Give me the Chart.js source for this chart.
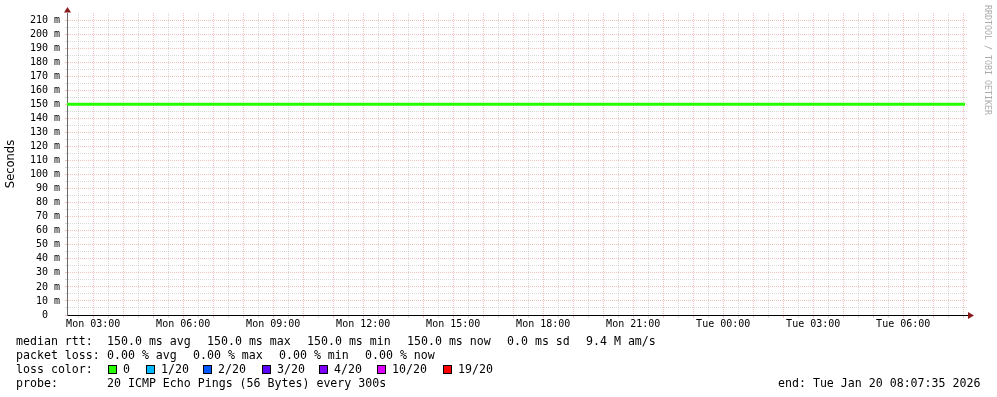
<!DOCTYPE html>
<html>
<head>
<meta charset="utf-8">
<script src="https://cdn.jsdelivr.net/npm/chart.js@4.4.1/dist/chart.umd.min.js"></script>
<style>
  html, body { margin: 0; padding: 0; background: #fff; }
  #wrap { position: relative; width: 997px; height: 397px; overflow: hidden; }
  #c { position: absolute; left: 0; top: 0; }
  .lg { position: absolute; font: 11.6px "DejaVu Sans Mono", monospace; color: #000; white-space: pre; line-height: 14px; }
  .box { position: absolute; width: 7px; height: 7px; border: 1px solid #000; }
</style>
</head>
<body>
<div id="wrap"><canvas id="c" width="997" height="397"></canvas></div>
<script>
// time axis in hours since Mon 00:00 (graph spans Mon 02:07:35 .. Tue 08:07:35)
const xStartHour = 2 + 7 / 60 + 35 / 3600;
const xEndHour = 32 + 7 / 60 + 35 / 3600;

// median rtt samples (ms) — flat at 150.0 the whole range
const sampleHours = [2.13, 6, 10, 14, 18, 22, 26, 30, 32.06];
const medianRttMs = [150, 150, 150, 150, 150, 150, 150, 150, 150];

const xLabelHours = [3, 6, 9, 12, 15, 18, 21, 24, 27, 30];
const xLabels = ['Mon 03:00', 'Mon 06:00', 'Mon 09:00', 'Mon 12:00', 'Mon 15:00',
  'Mon 18:00', 'Mon 21:00', 'Tue 00:00', 'Tue 03:00', 'Tue 06:00'];

const yLabelValues = [0, 10, 20, 30, 40, 50, 60, 70, 80, 90, 100, 110, 120, 130, 140, 150,
  160, 170, 180, 190, 200, 210];
const yLabels = ['0  ', '10 m', '20 m', '30 m', '40 m', '50 m', '60 m', '70 m', '80 m', '90 m',
  '100 m', '110 m', '120 m', '130 m', '140 m', '150 m', '160 m', '170 m', '180 m', '190 m',
  '200 m', '210 m'];

const rttTitle = 'median rtt:';
const rttStats = ['150.0 ms avg', '150.0 ms max', '150.0 ms min', '150.0 ms now', '0.0 ms sd', '9.4 M am/s'];
const lossTitle = 'packet loss:';
const lossStats = ['0.00 % avg', '0.00 % max', '0.00 % min', '0.00 % now'];
const lossColorTitle = 'loss color:';
const lossNames = ['0', '1/20', '2/20', '3/20', '4/20', '10/20', '19/20'];
const lossColors = ['#26ff00', '#00b8ff', '#0059ff', '#5e00ff', '#7e00ff', '#dd00ff', '#ff0000'];
const probeTitle = 'probe:';
const probeText = '20 ICMP Echo Pings (56 Bytes) every 300s';
const endText = 'end: Tue Jan 20 08:07:35 2026';

const MGRID = 'rgba(222,80,80,0.36)';
const GRID = 'rgba(143,143,143,0.34)';
const ARROW = '#8a1c1c';
const MONO = '"DejaVu Sans Mono", monospace';

// grid positions: every half hour / every 5 m
const gridHours = [];
for (let h = Math.ceil(xStartHour * 2) / 2; h <= xEndHour; h += 0.5) gridHours.push(h);
const gridMs = [];
for (let v = 0; v <= 210; v += 5) gridMs.push(v);

const decorPlugin = {
  id: 'rrd-decor',
  afterDraw(chart) {
    const ctx = chart.ctx;
    const { left, right, top, bottom } = chart.chartArea;
    ctx.save();
    // axis extensions + arrows
    ctx.strokeStyle = '#000';
    ctx.lineWidth = 1;
    ctx.beginPath();
    ctx.moveTo(right, bottom + 0.5);
    ctx.lineTo(right + 2, bottom + 0.5);
    ctx.stroke();
    ctx.fillStyle = ARROW;
    ctx.beginPath();
    ctx.moveTo(right + 1, bottom - 3);
    ctx.lineTo(right + 7, bottom + 0.5);
    ctx.lineTo(right + 1, bottom + 4);
    ctx.closePath();
    ctx.fill();
    ctx.beginPath();
    ctx.moveTo(left - 3, top - 0.5);
    ctx.lineTo(left + 0.5, top - 6);
    ctx.lineTo(left + 4, top - 0.5);
    ctx.closePath();
    ctx.fill();

    // y title
    ctx.fillStyle = '#000';
    ctx.font = '11.5px "DejaVu Sans", sans-serif';
    ctx.textAlign = 'center';
    ctx.textBaseline = 'middle';
    ctx.translate(11, (top + bottom) / 2);
    ctx.rotate(-Math.PI / 2);
    ctx.fillText('Seconds', 0, 0);
    ctx.restore();

    // watermark
    ctx.save();
    ctx.fillStyle = '#ababab';
    ctx.font = '8.3px ' + MONO;
    ctx.textAlign = 'left';
    ctx.textBaseline = 'middle';
    ctx.translate(987, 5);
    ctx.rotate(Math.PI / 2);
    ctx.fillText('RRDTOOL / TOBI OETIKER', 0, 0);
    ctx.restore();
  },
};

new Chart(document.getElementById('c'), {
  type: 'line',
  data: {
    datasets: [{
      label: 'median rtt',
      data: sampleHours.map((h, i) => ({ x: h, y: medianRttMs[i] })),
      parsing: false,
      borderColor: lossColors[0],
      borderWidth: 3,
      pointRadius: 0,
      tension: 0,
      fill: false,
    }],
  },
  options: {
    responsive: false,
    animation: false,
    devicePixelRatio: 1,
    layout: { padding: { left: 0, right: 30, top: 13, bottom: 0 } },
    scales: {
      x: {
        type: 'linear',
        min: xStartHour,
        max: xEndHour,
        afterBuildTicks: s => { s.ticks = gridHours.map(v => ({ value: v })); },
        afterFit: s => { s.height = 82; },
        grid: {
          color: c => Number.isInteger(c.tick.value) ? MGRID : GRID,
          tickLength: 3,
        },
        border: { color: '#000', width: 1, dash: [1, 1] },
        ticks: {
          autoSkip: false,
          maxRotation: 0,
          padding: 0,
          color: '#000',
          font: { family: MONO, size: 10 },
          callback: v => {
            const i = xLabelHours.indexOf(v);
            return i >= 0 ? xLabels[i] : '';
          },
        },
      },
      y: {
        min: 0,
        max: 215,
        afterBuildTicks: s => { s.ticks = gridMs.map(v => ({ value: v })); },
        afterFit: s => { s.width = 67; },
        grid: {
          color: c => c.tick.value % 10 === 0 ? MGRID : GRID,
          tickLength: 2,
        },
        border: { color: '#6a6a6a', width: 1, dash: [1, 1] },
        ticks: {
          autoSkip: false,
          padding: 5,
          color: '#000',
          font: { family: MONO, size: 10 },
          callback: v => {
            const i = yLabelValues.indexOf(v);
            return i >= 0 ? yLabels[i] : '';
          },
        },
      },
    },
    plugins: {
      legend: { display: false },
      title: { display: false },
      tooltip: { enabled: false },
    },
  },
  plugins: [decorPlugin],
});

// text legend below the graph
const wrap = document.getElementById('wrap');
function addText(x, y, text) {
  const d = document.createElement('div');
  d.className = 'lg';
  d.style.left = x + 'px';
  d.style.top = y + 'px';
  d.textContent = text;
  wrap.appendChild(d);
}
function addBox(x, y, color) {
  const d = document.createElement('div');
  d.className = 'box';
  d.style.left = x + 'px';
  d.style.top = y + 'px';
  d.style.background = color;
  wrap.appendChild(d);
}

const rttX = [107, 207, 307, 407, 507, 586];
const lossX = [107, 193, 279, 365];
const boxX = [108, 146, 203, 262, 319, 377, 443];

addText(16, 334, rttTitle);
rttStats.forEach((t, i) => addText(rttX[i], 334, t));
addText(16, 348, lossTitle);
lossStats.forEach((t, i) => addText(lossX[i], 348, t));
addText(16, 362, lossColorTitle);
lossNames.forEach((t, i) => {
  addBox(boxX[i], 365, lossColors[i]);
  addText(boxX[i] + 15, 362, t);
});
addText(16, 376, probeTitle);
addText(107, 376, probeText);
addText(778, 376, endText);
</script>
</body>
</html>
